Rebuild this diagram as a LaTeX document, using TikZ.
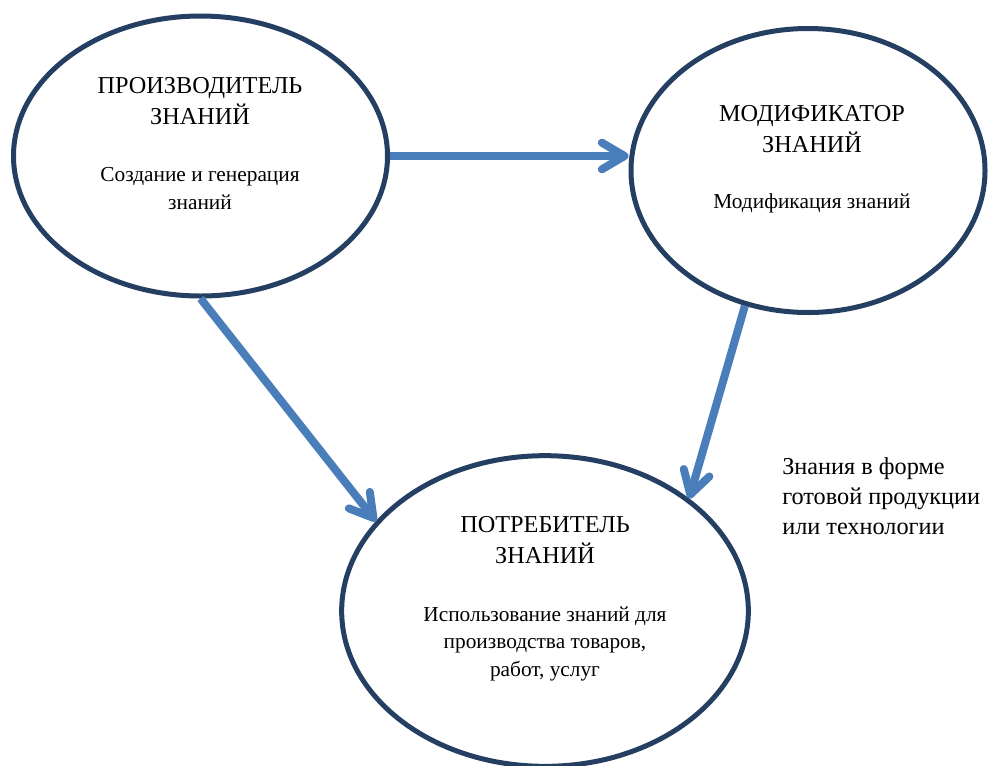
\documentclass[tikz,border=0pt]{standalone}
\usepackage{fontspec}
\setmainfont{Liberation Serif}
\usetikzlibrary{shapes.geometric,arrows.meta}
\definecolor{navy}{HTML}{243F62}
\definecolor{flowblue}{HTML}{4A7EBB}

\begin{document}
\begin{tikzpicture}[x=0.75pt,y=-0.75pt,
    role/.style={ellipse,draw=navy,line width=3.75pt,inner sep=0pt},
    flow/.style={draw=flowblue,line width=6pt,-{Straight Barb[length=17pt,width=20pt,round]}},
    heading/.style={font=\fontsize{18.2}{23.25}\selectfont,align=center,anchor=base,inner sep=0pt},
    body/.style={font=\fontsize{16}{20.6}\selectfont,align=center,anchor=base,inner sep=0pt},
    note/.style={font=\fontsize{18.2}{22.5}\selectfont,align=left,anchor=base west,inner sep=0pt}]
        \useasboundingbox (0,0) rectangle (988,765);
        % producer
        \node[role,minimum width=280.5pt,minimum height=210pt] (prod) at (200.5,156) {};
        \node[heading] (prod-h) at (200,124) {ПРОИЗВОДИТЕЛЬ\\ЗНАНИЙ};
        \node[body] (prod-b) at (200,209) {Создание и генерация\\знаний};
        % modifier
        \node[role,minimum width=265.5pt,minimum height=213pt] (mod) at (808,170.5) {};
        \node[heading] (mod-h) at (812,152) {МОДИФИКАТОР\\ЗНАНИЙ};
        \node[body] (mod-b) at (812,208) {Модификация знаний};
        % consumer
        \node[role,minimum width=305pt,minimum height=233pt] (cons) at (545,611) {};
        \node[heading] (cons-h) at (545,563) {ПОТРЕБИТЕЛЬ\\ЗНАНИЙ};
        \node[body] (cons-b) at (545,676) {Использование знаний для\\производства товаров,\\работ, услуг};
        % side note
        \node[note] (note) at (782,534) {Знания в форме\\готовой продукции\\или технологии};
        % knowledge flows
        \draw[flow] (prod.east) -- (prod.east -| mod.west);
        \draw[flow] (prod.south) -- (cons.152);
        \draw[flow] (mod.245) -- (cons.38);
      \end{tikzpicture}
\end{document}
